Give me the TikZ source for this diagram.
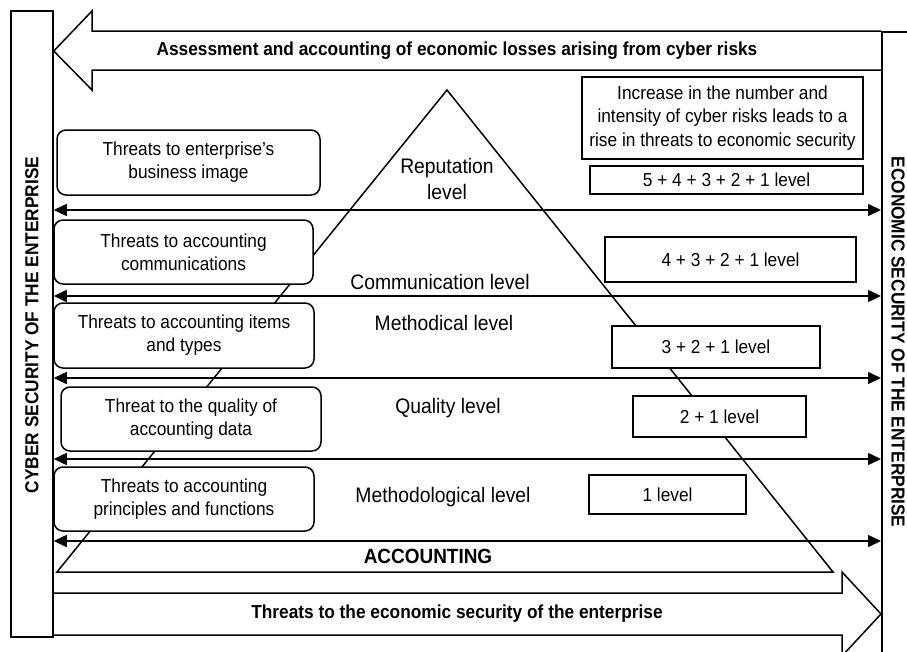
\documentclass[tikz,border=0pt]{standalone}
\usepackage{fontspec}
\setmainfont{Liberation Sans}[FakeStretch=0.92]
\usetikzlibrary{arrows.meta}

\begin{document}
\begin{tikzpicture}
[x=1pt, y=-1pt,
threat box/.style={draw, fill=white, rounded corners=9pt, line width=1.5pt, align=center, minimum width=260pt, minimum height=64pt, inner sep=0pt, font=\fontsize{18.8}{23}\selectfont},
level box/.style={draw, fill=white, line width=1.5pt, align=center, inner sep=0pt, font=\fontsize{18.8}{23.5}\selectfont},
level name/.style={align=center, font=\fontsize{21}{26}\selectfont},
both ways/.style={{Triangle[length=13pt,width=12pt]}-{Triangle[length=13pt,width=12pt]}, line width=1.5pt},
big arrow/.style={line width=1.5pt, line join=miter},
side bar/.style={draw, line width=1.5pt, inner sep=0pt},
heading/.style={font=\bfseries\fontsize{18.8}{23}\selectfont}]
\useasboundingbox (0,0) rectangle (907,651);
% side bars
\node[side bar, minimum width=42pt, minimum height=626pt] (cyber) at (32,324) {};
\node[heading, rotate=90] (cyber text) at (32,325) {CYBER SECURITY OF THE ENTERPRISE};
\node[side bar, minimum width=60pt, minimum height=700pt, anchor=north west] (econ) at (881,31) {};
\node[heading, rotate=-90] (econ text) at (898,342) {ECONOMIC SECURITY OF THE ENTERPRISE};
% block arrows
\draw[big arrow] (881,31) -- (92,31) -- (92,11) -- (cyber.east |- 0,51) -- (92,90) -- (92,70) -- (881,70);
\node[heading] (losses) at (457,51) {Assessment and accounting of economic losses arising from cyber risks};
\draw[big arrow] (cyber.east |- 0,593) -- (842,593) -- (842,572) -- (econ.west |- 0,614) -- (842,656) -- (842,635) -- (cyber.east |- 0,635);
\node[heading] (threats) at (457,614) {Threats to the economic security of the enterprise};
% pyramid
\draw[line width=1.5pt] (447,90) -- (57,572) -- (833,572) -- cycle;
\node[heading, font=\bfseries\fontsize{20.6}{23}\selectfont] (accounting) at (428,556) {ACCOUNTING};
% level borders
\foreach \y in {210,296,378,459,541}
  \draw[both ways] (cyber.east |- 0,\y) -- (econ.west |- 0,\y);
% levels
\node[level name] (reputation) at (447,179) {Reputation\\level};
\node[level name] (communication) at (440,282) {Communication level};
\node[level name] (methodical) at (444,323) {Methodical level};
\node[level name] (quality) at (448,408) {Quality level};
\node[level name] (methodological) at (443,497) {Methodological level};
% threats
\node[threat box, minimum width=263pt, minimum height=65pt] (image) at (188.5,162.5) {Threats to enterprise’s\\business image};
\node[threat box, minimum width=259pt] (communications) at (183.5,252) {Threats to accounting\\communications};
\node[threat box, minimum height=65pt] (items) at (184,335.5) {Threats to accounting items\\and types};
\node[threat box] (data) at (191,419) {Threat to the quality of\\accounting data};
\node[threat box] (principles) at (184,499) {Threats to accounting\\principles and functions};
% levels summed
\node[level box, minimum width=281pt, minimum height=82pt] (increase) at (722.5,118) {Increase in the number and\\intensity of cyber risks leads to a\\rise in threats to economic security};
\node[level box, minimum width=273pt, minimum height=28pt] (five) at (726.5,180) {5 + 4 + 3 + 2 + 1 level};
\node[level box, minimum width=251pt, minimum height=45pt] (four) at (730.5,259.5) {4 + 3 + 2 + 1 level};
\node[level box, minimum width=208pt, minimum height=42pt] (three) at (716,347) {3 + 2 + 1 level};
\node[level box, minimum width=173pt, minimum height=41pt] (two) at (719.5,416.5) {2 + 1 level};
\node[level box, minimum width=157pt, minimum height=39pt] (one) at (667.5,494.5) {1 level};
\end{tikzpicture}
\end{document}
